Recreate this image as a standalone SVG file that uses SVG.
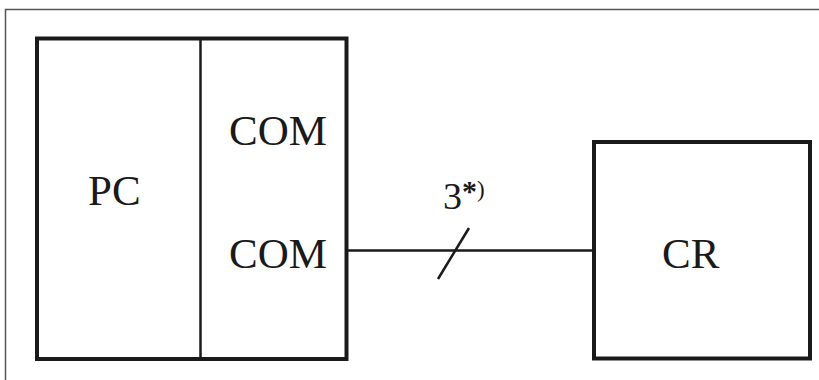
<svg xmlns="http://www.w3.org/2000/svg" width="819" height="380" viewBox="0 0 819 380">
  <style>
    .box { fill: #fff; stroke: #1a1a1a; stroke-width: 4; }
    .thin { stroke: #1a1a1a; stroke-width: 2.5; fill: none; }
    .lbl { font-family: "Liberation Serif", "Times New Roman", serif; font-size: 43px; fill: #1a1a1a; }
    .note { font-family: "Liberation Serif", "Times New Roman", serif; fill: #1a1a1a; }
  </style>
  <rect width="819" height="380" fill="#fff"/>
  <!-- page frame -->
  <path d="M5.5,380 V9.5 H819" fill="none" stroke="#555" stroke-width="1.5"/>

  <g id="pc">
    <rect class="box" x="37" y="38.5" width="309.5" height="320.5"/>
    <line class="thin" x1="200.5" y1="38.5" x2="200.5" y2="359"/>
    <text class="lbl" x="88" y="205">PC</text>
    <text class="lbl" x="229" y="144.5">COM</text>
    <text class="lbl" x="229" y="268">COM</text>
  </g>

  <g id="cr">
    <rect class="box" x="594" y="142" width="216" height="216.5"/>
    <text class="lbl" x="662" y="268">CR</text>
  </g>

  <g id="connectors">
    <line class="thin" x1="346.5" y1="250.5" x2="594" y2="250.5"/>
    <line class="thin" x1="438" y1="279" x2="469" y2="228"/>
    <text class="note" x="443" y="209"><tspan font-size="38">3</tspan><tspan font-size="30" font-weight="bold" dy="-8">*</tspan><tspan font-size="23" dy="-4">)</tspan></text>
  </g>
</svg>
